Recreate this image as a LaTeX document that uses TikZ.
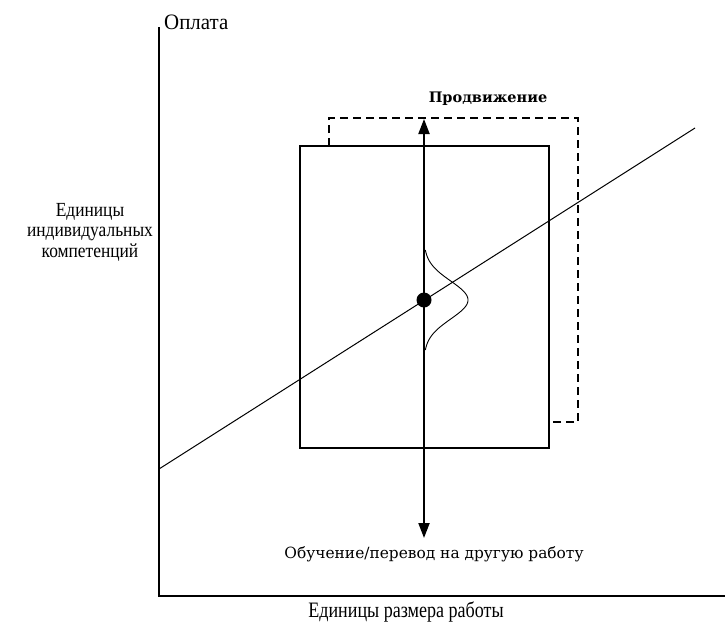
\documentclass[tikz,border=0pt]{standalone}
\usepackage{fontspec}
\setmainfont{Liberation Serif}
\newfontfamily\condA[FakeStretch=0.95]{Liberation Serif}
\newfontfamily\condB[FakeStretch=0.82]{Liberation Serif}
\newfontfamily\condC[FakeStretch=0.87]{Liberation Serif}
\newfontfamily\wideserif{DejaVu Serif}
\usetikzlibrary{arrows.meta}
\begin{document}
\begin{tikzpicture}[x=1pt,y=-1pt,
  axis/.style={line width=2pt},
  box/.style={line width=1.2pt},
  dbox/.style={line width=1.2pt,dash pattern=on 8pt off 5pt},
  arr/.style={line width=2pt,-{Triangle[length=15pt,width=11pt]}},
  lbl/.style={inner sep=0pt},
  slbl/.style={inner sep=0pt,font=\wideserif\fontsize{15.4}{17}\selectfont}]
\useasboundingbox (0,0) rectangle (725,627);
% axes
\coordinate (O) at (159,596);
\coordinate (ytop) at (159,27);
\coordinate (xend) at (725,596);
\draw[axis] (ytop) -- (O) -- (xend);
% dashed box
\draw[dbox] (329,146) -- (329,118) -- (578,118) -- (578,422) -- (549,422);
% box
\draw[box,fill=white] (300,146) rectangle (549,448);
% regression line
\coordinate (L1) at (159,469);
\coordinate (L2) at (695,128);
\draw[line width=1pt] (L1) -- (L2);
% bell curve
\draw[line width=0.9pt,domain=250:350,samples=60,variable=\t]
  plot ({424+44*exp(-((\t-300)*(\t-300))/(2*19*19))},{\t});
% arrows
\coordinate (dot) at (424,300);
\coordinate (up) at (424,119);
\coordinate (down) at (424,538);
\draw[arr] (dot) -- (up);
\draw[arr] (dot) -- (down);
\fill (dot) circle (7.5pt);
% labels
\node[lbl,anchor=west,font=\condA\fontsize{22}{24}\selectfont] (pay) at (164,22) {Оплата};
\node[lbl,align=center,font=\condC\fontsize{20}{20.5}\selectfont] (ylab) at (90,232) {Единицы\\индивидуальных\\компетенций};
\node[lbl,font=\condB\fontsize{22}{24}\selectfont] (xlab) at (406,612) {Единицы размера работы};
\node[slbl,font=\wideserif\bfseries\fontsize{14.5}{16}\selectfont] (prom) at (488,99) {Продвижение};
\node[slbl] (train) at (434,554) {Обучение/перевод на другую работу};
\end{tikzpicture}
\end{document}
